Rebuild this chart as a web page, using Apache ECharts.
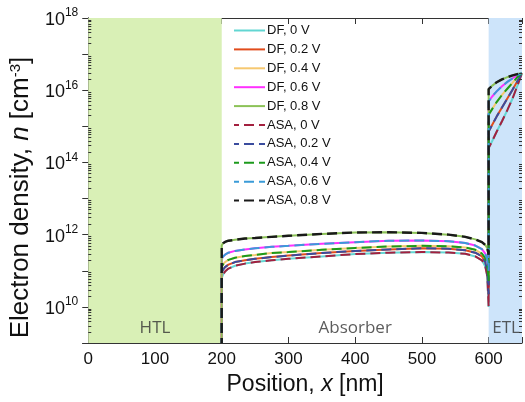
<!DOCTYPE html>
<html>
<head>
<meta charset="utf-8">
<script src="https://cdn.jsdelivr.net/npm/echarts@6/dist/echarts.min.js"></script>
<style>
  html, body { margin: 0; padding: 0; background: #ffffff; }
  #chart { width: 525px; height: 402px; }
</style>
</head>
<body>
<div id="chart"></div>
<script>
// Position through the device stack (nm): HTL 0-200, absorber 200-600, ETL 600-650
const positions = [200, 200, 202, 205, 210, 220, 235, 250, 275, 300, 350, 400, 450, 500, 540, 565, 580, 590, 595, 598, 600,
                   600, 605, 612, 620, 628, 636, 643, 650];

// Electron density (cm^-3) at each bias
const density0V = [1e9, 6.3e10, 7.9e10, 9.5e10, 1.15e11, 1.38e11, 1.58e11, 1.74e11, 1.95e11, 2.14e11, 2.5e11, 2.9e11, 3.16e11, 3.3e11, 3.2e11, 2.95e11, 2.5e11, 1.95e11, 1.32e11, 7.1e10, 1.0e10,
                   2.5e14, 3.8e14, 7.1e14, 1.38e15, 2.8e15, 6.0e15, 1.32e16, 3.0e16];
const density02V = [1e9, 8.9e10, 1.07e11, 1.26e11, 1.48e11, 1.74e11, 1.95e11, 2.14e11, 2.4e11, 2.63e11, 3.1e11, 3.55e11, 3.9e11, 4.2e11, 4.1e11, 3.7e11, 3.16e11, 2.5e11, 1.74e11, 9.5e10, 2.24e10,
                    7.2e14, 1.07e15, 1.86e15, 3.3e15, 5.9e15, 1.05e16, 1.78e16, 3.0e16];
const density04V = [1e9, 1.26e11, 1.51e11, 1.74e11, 2.0e11, 2.3e11, 2.57e11, 2.75e11, 3.1e11, 3.3e11, 3.8e11, 4.3e11, 4.7e11, 4.9e11, 4.8e11, 4.4e11, 3.8e11, 3.0e11, 2.2e11, 1.32e11, 5.2e10,
                    2.1e15, 2.95e15, 4.7e15, 7.4e15, 1.1e16, 1.62e16, 2.3e16, 3.0e16];
const density06V = [1e9, 2.14e11, 2.5e11, 2.8e11, 3.16e11, 3.55e11, 3.9e11, 4.2e11, 4.6e11, 4.9e11, 5.6e11, 6.2e11, 6.8e11, 6.9e11, 6.6e11, 5.9e11, 5.0e11, 4.0e11, 3.0e11, 2.0e11, 1.0e11,
                    4.9e15, 6.6e15, 9.3e15, 1.29e16, 1.7e16, 2.14e16, 2.63e16, 3.0e16];
const density08V = [1e9, 5.0e11, 5.75e11, 6.3e11, 6.8e11, 7.2e11, 7.8e11, 8.1e11, 8.7e11, 9.3e11, 1.05e12, 1.15e12, 1.17e12, 1.12e12, 1.0e12, 8.7e11, 7.4e11, 6.2e11, 5.2e11, 4.2e11, 2.8e11,
                    1.07e16, 1.32e16, 1.66e16, 2.0e16, 2.3e16, 2.57e16, 2.8e16, 3.0e16];

const biasLabels = ['0 V', '0.2 V', '0.4 V', '0.6 V', '0.8 V'];
const densityByBias = [density0V, density02V, density04V, density06V, density08V];

const dfColors = ['#62d6d2', '#e14c1c', '#f6c870', '#ff30ff', '#8cc257'];
const asaColors = ['#a3203f', '#3a4c9e', '#1c9a1c', '#3a9bd8', '#1a1a1a'];

// Layer names drawn inside the plot
const layerNames = ['HTL', 'Absorber', 'ETL'];
const layerLabelX = [100, 400, 601];
const layerLabelY = [2.6e9, 2.6e9, 2.6e9];

// Layer spans (nm)
const htlSpan = [0, 200];
const etlSpan = [600, 650];

// Axis ticks
const xTicks = [0, 100, 200, 300, 400, 500, 600];
const yLabelExponents = [10, 12, 14, 16, 18];
const minorDecades = [9, 10, 11, 12, 13, 14, 15, 16, 17];
const minorSteps = [2, 3, 4, 5, 6, 7, 8, 9];

const FONT = '"Liberation Sans", Arial, Helvetica, sans-serif';

const chart = echarts.init(document.getElementById('chart'), null, { renderer: 'canvas' });

function toPairs(values) {
  return positions.map((x, i) => [x, values[i]]);
}

const series = [];

biasLabels.forEach((b, k) => {
  series.push({
    name: 'DF, ' + b,
    type: 'line',
    data: toPairs(densityByBias[k]),
    showSymbol: false,
    symbol: 'none',
    lineStyle: { color: dfColors[k], width: 2 },
    itemStyle: { color: dfColors[k] },
    z: 3,
    silent: true
  });
});
biasLabels.forEach((b, k) => {
  series.push({
    name: 'ASA, ' + b,
    type: 'line',
    data: toPairs(densityByBias[k]),
    showSymbol: false,
    symbol: 'none',
    lineStyle: { color: asaColors[k], width: k === 4 ? 2.4 : 2, type: [10, 5], dashOffset: 5 },
    itemStyle: { color: asaColors[k] },
    z: 4,
    silent: true
  });
});

// Shaded transport layers
series[0].markArea = {
  silent: true,
  z: 1,
  data: [
    [{ xAxis: htlSpan[0], itemStyle: { color: '#d9f0b6' } }, { xAxis: htlSpan[1] }],
    [{ xAxis: etlSpan[0], itemStyle: { color: '#cde4fa' } }, { xAxis: etlSpan[1] }]
  ]
};

// Layer captions
series.push({
  type: 'scatter',
  symbolSize: 0,
  silent: true,
  z: 5,
  data: layerNames.map((n, i) => ({
    value: [layerLabelX[i], layerLabelY[i]],
    name: n,
    label: i === 2 ? { position: 'right', distance: 0, offset: [3, 0] } : { position: 'inside' }
  })),
  label: {
    show: true,
    formatter: p => p.name,
    fontFamily: '"Open Sans", sans-serif',
    fontSize: 17,
    color: '#333333'
  }
});

// Logarithmic minor ticks on the left and right frame edges
const minorTickValues = [];
minorDecades.forEach(d => minorSteps.forEach(s => minorTickValues.push([0, s * Math.pow(10, d)])));
series.push({
  type: 'custom',
  silent: true,
  z: 6,
  clip: false,
  data: minorTickValues,
  encode: { x: 0, y: 1 },
  renderItem: (params, api) => {
    const v = api.value(1);
    const pl = api.coord([0, v]);
    const pr = api.coord([650, v]);
    const st = { stroke: '#333333', lineWidth: 1 };
    return {
      type: 'group',
      children: [
        { type: 'line', shape: { x1: pl[0], y1: Math.round(pl[1]) + 0.5, x2: pl[0] + 3, y2: Math.round(pl[1]) + 0.5 }, style: st },
        { type: 'line', shape: { x1: pr[0] - 3, y1: Math.round(pr[1]) + 0.5, x2: pr[0], y2: Math.round(pr[1]) + 0.5 }, style: st }
      ]
    };
  }
});

const axisLineStyle = { color: '#333333', width: 1 };

const option = {
  animation: false,
  backgroundColor: '#ffffff',
  grid: { left: 87, right: -1, top: 18, bottom: 59, containLabel: false },
  legend: {
    orient: 'vertical',
    left: 228,
    top: 19,
    itemWidth: 31,
    itemHeight: 14,
    itemGap: 5.9,
    itemStyle: { color: 'rgba(0,0,0,0)', opacity: 0, borderWidth: 0 },
    data: series.filter(s => s.type === 'line').map(s => s.name),
    textStyle: { fontFamily: FONT, fontSize: 13, color: '#111111', padding: [0, 0, 0, -3] }
  },
  xAxis: [
    {
      type: 'value', min: 0, max: 650, interval: 100, position: 'bottom',
      axisLine: { show: true, lineStyle: axisLineStyle },
      axisTick: { show: true, inside: true, length: 6, lineStyle: axisLineStyle },
      axisLabel: {
        show: true, margin: 8, fontFamily: FONT, fontSize: 17, color: '#111111',
        formatter: v => (xTicks.indexOf(v) >= 0 ? String(v) : '')
      },
      splitLine: { show: false },
      name: 'Position, {i|x} [nm]',
      nameLocation: 'middle',
      nameGap: 30,
      nameTextStyle: {
        fontFamily: FONT, fontSize: 23, color: '#111111',
        rich: { i: { fontFamily: FONT, fontSize: 23, fontStyle: 'italic', color: '#111111' } }
      }
    },
    {
      type: 'value', min: 0, max: 650, interval: 100, position: 'top',
      axisLine: { show: true, lineStyle: axisLineStyle },
      axisTick: { show: true, inside: true, length: 6, lineStyle: axisLineStyle },
      axisLabel: { show: false },
      splitLine: { show: false }
    }
  ],
  yAxis: [
    {
      type: 'log', logBase: 10, min: 1e9, max: 1e18, splitNumber: 9, position: 'left',
      axisLine: { show: true, lineStyle: axisLineStyle },
      axisTick: { show: true, inside: true, length: 6, lineStyle: axisLineStyle },
      minorTick: { show: false },
      axisLabel: {
        show: true, margin: 10, color: '#111111',
        formatter: v => {
          const e = Math.round(Math.log10(v));
          return yLabelExponents.indexOf(e) >= 0 ? '{b|10}{s|' + e + '}' : '';
        },
        rich: {
          b: { fontFamily: FONT, fontSize: 18, color: '#111111', lineHeight: 22, verticalAlign: 'bottom' },
          s: { fontFamily: FONT, fontSize: 12, color: '#111111', lineHeight: 22, verticalAlign: 'top' }
        }
      },
      splitLine: { show: false },
      name: 'Electron density, {i|n} [cm{s|-3}]',
      nameLocation: 'middle',
      nameGap: 42,
      nameRotate: 90,
      nameTextStyle: {
        fontFamily: FONT, fontSize: 26, color: '#111111',
        padding: [0, 34, 0, 0],
        rich: {
          i: { fontFamily: FONT, fontSize: 26, fontStyle: 'italic', color: '#111111' },
          s: { fontFamily: FONT, fontSize: 15, color: '#111111', verticalAlign: 'top' }
        }
      }
    },
    {
      type: 'log', logBase: 10, min: 1e9, max: 1e18, splitNumber: 9, position: 'right',
      axisLine: { show: true, lineStyle: axisLineStyle },
      axisTick: { show: true, inside: true, length: 6, lineStyle: axisLineStyle },
      minorTick: { show: false },
      axisLabel: { show: false },
      splitLine: { show: false }
    }
  ],
  series: series
};

chart.setOption(option);
</script>
</body>
</html>
